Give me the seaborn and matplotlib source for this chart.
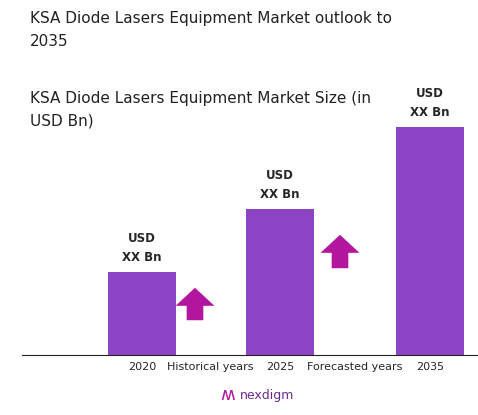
import matplotlib
matplotlib.use("Agg")
import matplotlib.pyplot as plt
import seaborn as sns
import pandas as pd

years = ["2020", "2025", "2035"]
sizes = [83, 146, 228]
bar_pos = [142, 280, 430]
mid_labels = ["Historical years", "Forecasted years"]
mid_pos = [210, 355]

sns.set_style("white")
plt.rcParams["font.family"] = ["DejaVu Sans"]

fig = plt.figure(figsize=(4.78, 4.15), dpi=100)
ax = fig.add_axes([22 / 478, 60 / 415, 456 / 478, 255 / 415])
df = pd.DataFrame({"pos": bar_pos, "size": sizes})
sns.barplot(data=df, x="pos", y="size", native_scale=True, width=0.49,
            color="#8B44C3", saturation=1, linewidth=0, ax=ax)
ax.set_xticks([])
ax.set_yticks([])
ax.set_xlabel("")
ax.set_ylabel("")
for s in ["top", "right", "left"]:
    ax.spines[s].set_visible(False)
ax.spines["bottom"].set_color("#222222")
ax.set_xlim(22, 478)
ax.set_ylim(0, 255)

for p, v in zip(bar_pos, sizes):
    ax.text(p, v + 8, "USD\nXX Bn", ha="center", va="bottom", fontsize=8.5,
            fontweight="bold", linespacing=1.6)
for p, y in zip(bar_pos, years):
    ax.text(p, -7, y, ha="center", va="top", fontsize=8)
for p, t in zip(mid_pos, mid_labels):
    ax.text(p, -7, t, ha="center", va="top", fontsize=8)

# growth arrows
for x, y0, y1 in [(195, 32, 70), (340, 84, 123)]:
    ax.annotate("", xy=(x, y1), xytext=(x, y0),
                arrowprops=dict(arrowstyle="simple,head_width=2.8,head_length=1.3,tail_width=1.2",
                                color="#B2169F", lw=0))

fig.text(30 / 478, 1 - 30 / 415, "KSA Diode Lasers Equipment Market outlook to\n2035",
         fontsize=11, va="center", ha="left", linespacing=1.6, color="#222222")
fig.text(30 / 478, 1 - 110 / 415, "KSA Diode Lasers Equipment Market Size (in\nUSD Bn)",
         fontsize=11, va="center", ha="left", linespacing=1.6, color="#222222")
fig.text(240 / 478, 1 - 395 / 415, "nexdigm", fontsize=9, color="#6A2C8C",
         ha="left", va="center")
fig.text(228 / 478, 1 - 395 / 415, "ʍ", fontsize=13, color="#B2169F",
         ha="center", va="center")

fig.savefig("out.png", dpi=100)
